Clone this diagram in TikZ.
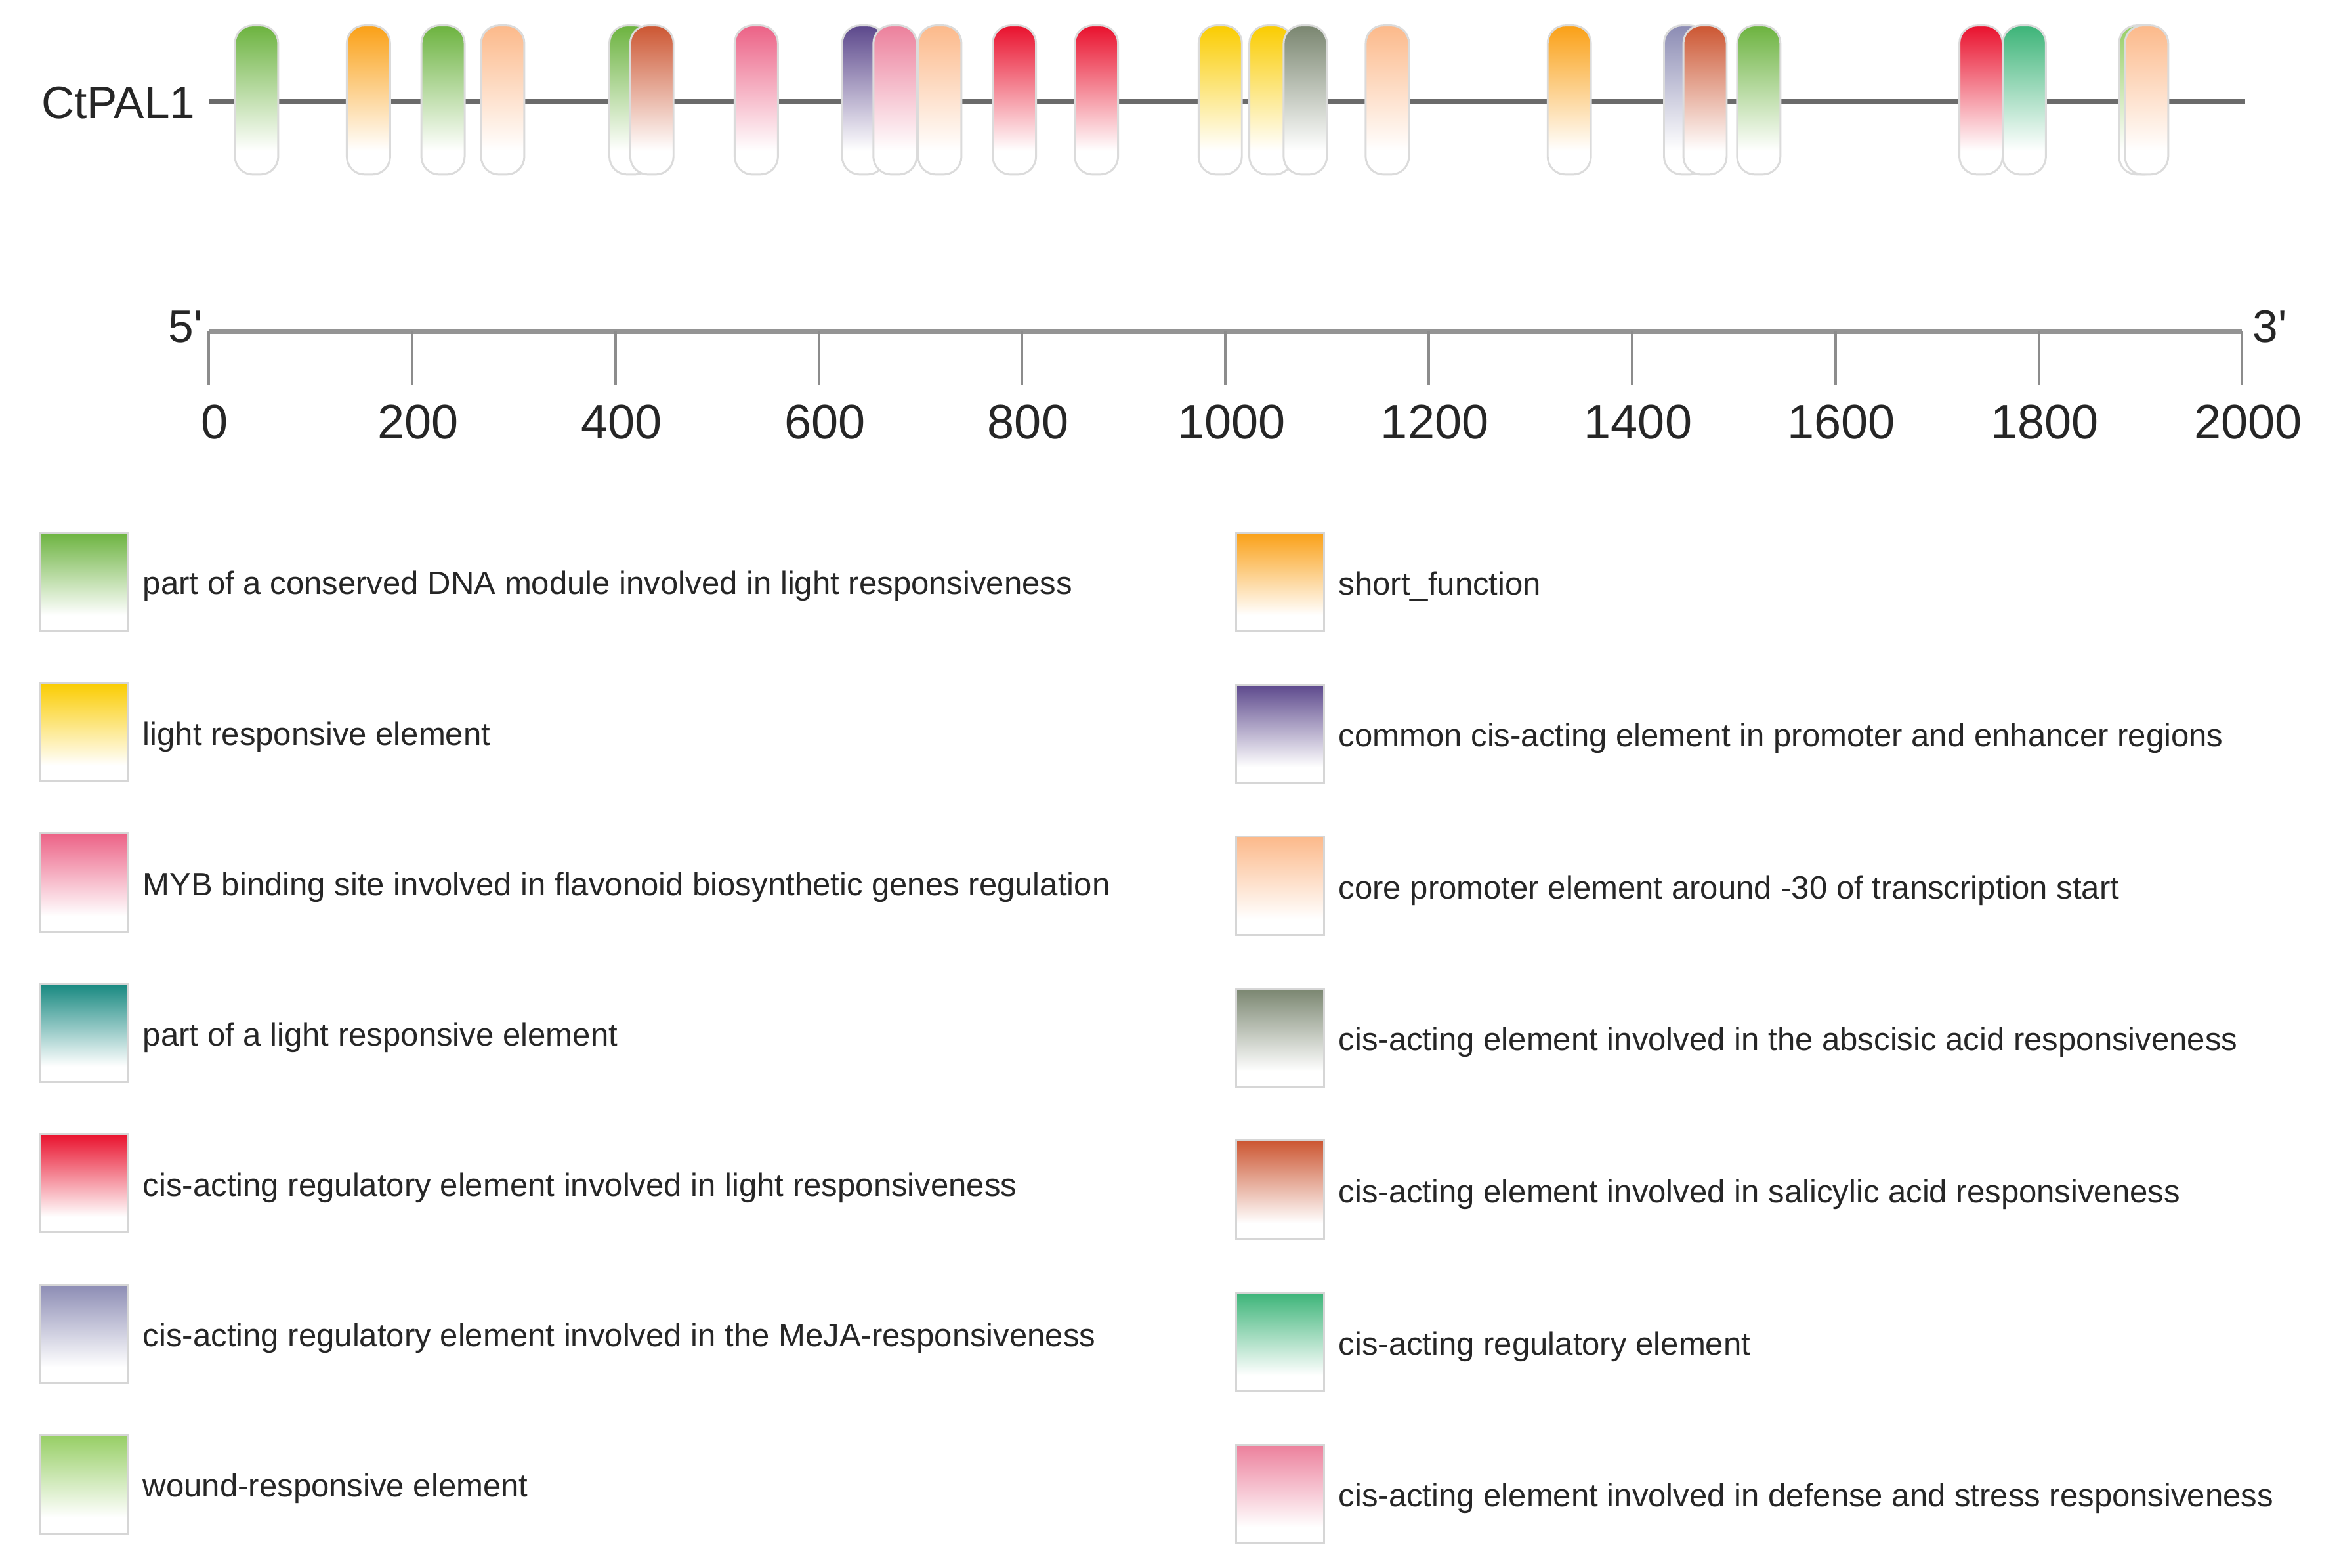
\documentclass[tikz,border=0pt]{standalone}
\usepackage{fontspec}
\setmainfont{Liberation Sans}
\usetikzlibrary{positioning}

\definecolor{cdna}{RGB}{108,179,63}
\definecolor{clre}{RGB}{250,204,0}
\definecolor{cmyb}{RGB}{236,98,134}
\definecolor{cteal}{RGB}{22,136,128}
\definecolor{cred}{RGB}{233,17,45}
\definecolor{cmeja}{RGB}{140,140,180}
\definecolor{cwound}{RGB}{150,206,100}
\definecolor{cshort}{RGB}{250,160,22}
\definecolor{ccommon}{RGB}{92,72,140}
\definecolor{ccore}{RGB}{252,185,138}
\definecolor{caba}{RGB}{122,134,112}
\definecolor{csal}{RGB}{204,86,50}
\definecolor{creg}{RGB}{60,180,120}
\definecolor{cdef}{RGB}{236,128,156}

\pgfdeclareverticalshading[boxcol]{fade}{100bp}{color(0bp)=(white); color(33bp)=(white); color(75bp)=(boxcol); color(100bp)=(boxcol)}

\begin{document}
\begin{tikzpicture}[x=1pt, y=-1pt,
	boxfill/.code = {\colorlet{boxcol}{#1}},
	elem/.style = {boxfill=#1, shade, shading=fade, draw=black!14, line width=1.3pt, rounded corners=12pt, minimum width=29pt, minimum height=100pt, inner sep=0pt},
	swatch/.style = {boxfill=#1, shade, shading=fade, draw=black!16, line width=1.3pt, minimum width=59pt, minimum height=66pt, inner sep=0pt},
	legtext/.style = {font=\fontsize{21.6}{26}\selectfont, text=black!85, inner sep=0pt, yshift=-3pt},
	big/.style = {font=\fontsize{30.5}{34}\selectfont, text=black!85, inner sep=0pt},
	ticklabel/.style = {font=\fontsize{32.5}{36}\selectfont, text=black!85, inner sep=0pt, xshift=4pt},
	track/.style = {draw=black!58, line width=3pt},
	axisline/.style = {draw=black!42, line width=3.5pt},
	tickline/.style = {draw=black!45, line width=1.6pt}]
	\useasboundingbox (0,0) rectangle (1568,1051);

	\node[big, anchor=east] (gene) at (131,69) {CtPAL1};
	\coordinate (trackstart) at (140,68);
	\coordinate (trackend) at (1505,68);
	\draw[track] (trackstart) -- (trackend);

	\foreach \x/\c [count=\i] in {172/cdna, 247/cshort, 297/cdna, 337/ccore, 423/cdna, 437/csal, 507/cmyb, 579/ccommon, 600/cdef, 630/ccore, 680/cred, 735/cred, 818/clre, 852/clre, 875/caba, 930/ccore, 1052/cshort, 1130/cmeja, 1143/csal, 1179/cdna, 1357/creg, 1328/cred, 1435/cwound, 1439/ccore}
		\node[elem=\c] (e\i) at (\x,67) {};

	\coordinate (axstart) at (140,222);
	\coordinate (axend) at (1503,222);
	\draw[axisline] (axstart) -- (axend);
	\foreach \k in {0,...,10} {
		\pgfmathtruncatemacro\lab{\k*200}
		\coordinate (top\k) at (140+136.3*\k,222);
		\coordinate (bot\k) at (140+136.3*\k,258);
		\draw[tickline] (top\k) -- (bot\k);
		\node[ticklabel, anchor=north] (n\k) at (140+136.3*\k,271) {\lab};
	}
	\node[big, anchor=east] (five) at (136,219) {5\textquotesingle};
	\node[big, anchor=west] (three) at (1510,219) {3\textquotesingle};

	\foreach \c/\t [count=\i from 0] in {cdna/{part of a conserved DNA module involved in light responsiveness}, clre/{light responsive element}, cmyb/{MYB binding site involved in flavonoid biosynthetic genes regulation}, cteal/{part of a light responsive element}, cred/{cis-acting regulatory element involved in light responsiveness}, cmeja/{cis-acting regulatory element involved in the MeJA-responsiveness}, cwound/{wound-responsive element}} {
		\node[swatch=\c] (L\i) at (56.5,390+100.8*\i) {};
		\node[legtext, right=9pt of L\i] (LT\i) {\t};
	}
	\foreach \c/\t [count=\i from 0] in {cshort/{short\_function}, ccommon/{common cis-acting element in promoter and enhancer regions}, ccore/{core promoter element around -30 of transcription start}, caba/{cis-acting element involved in the abscisic acid responsiveness}, csal/{cis-acting element involved in salicylic acid responsiveness}, creg/{cis-acting regulatory element}, cdef/{cis-acting element involved in defense and stress responsiveness}} {
		\node[swatch=\c] (R\i) at (858,390+101.9*\i) {};
		\node[legtext, right=9pt of R\i] (RT\i) {\t};
	}
\end{tikzpicture}
\end{document}
